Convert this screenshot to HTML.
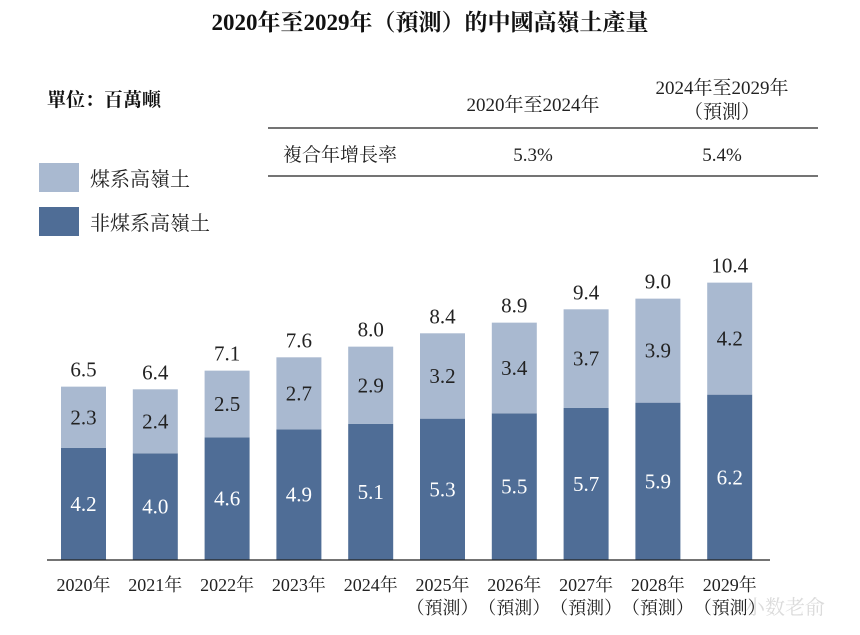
<!DOCTYPE html>
<html><head><meta charset="utf-8"><style>
body{margin:0;background:#fff;}
svg text{font-family:"Liberation Serif","Noto Serif CJK SC",serif;}
</style></head><body>
<svg id="chart" width="860" height="630" xmlns="http://www.w3.org/2000/svg">
<text x="430" y="30" text-anchor="middle" font-size="23" font-weight="bold" fill="#111">2020年至2029年（預測）的中國高嶺土產量</text>
<text x="47" y="106" font-size="19" font-weight="bold" fill="#111" font-family="'Liberation Sans','Noto Sans CJK SC',sans-serif">單位：百萬噸</text>
<g font-size="19" fill="#222">
<text x="533" y="111" text-anchor="middle">2020年至2024年</text>
<text x="722" y="94" text-anchor="middle">2024年至2029年</text>
<text x="722" y="118" text-anchor="middle">（預測）</text>
<line x1="268" y1="128" x2="818" y2="128" stroke="#222" stroke-width="1.3"/>
<text x="283" y="161">複合年增長率</text>
<text x="533" y="161" text-anchor="middle">5.3%</text>
<text x="722" y="161" text-anchor="middle">5.4%</text>
<line x1="268" y1="176" x2="818" y2="176" stroke="#222" stroke-width="1.3"/>
</g>
<g>
<rect x="39" y="163" width="40" height="29" fill="#a9b9d0"/>
<text x="90" y="186" font-size="20" fill="#222">煤系高嶺土</text>
<rect x="39" y="207" width="40" height="29" fill="#4f6d96"/>
<text x="90" y="230" font-size="20" fill="#222">非煤系高嶺土</text>
</g>
<g id="bars"></g>
<line x1="47" y1="560" x2="770" y2="560" stroke="#222" stroke-width="1.3"/>
<text x="745" y="614" font-size="20" fill="#ccc" opacity="0.7" font-family="'Liberation Sans','Noto Sans CJK SC',sans-serif">小数老俞</text>
</svg>
<script>
const years=["2020年","2021年","2022年","2023年","2024年","2025年","2026年","2027年","2028年","2029年"];
const forecast=[false,false,false,false,false,true,true,true,true,true];
const nonCoal=[4.2,4.0,4.6,4.9,5.1,5.3,5.5,5.7,5.9,6.2];
const coal=[2.3,2.4,2.5,2.7,2.9,3.2,3.4,3.7,3.9,4.2];
const totalLabels=["6.5","6.4","7.1","7.6","8.0","8.4","8.9","9.4","9.0","10.4"];
const NS="http://www.w3.org/2000/svg";
const base=560, pxPer=26.67, x0=83.5, step=71.8, bw=45;
const y=v=>base-v*pxPer;
const xc=i=>x0+i*step;
const g=document.getElementById('bars');
function mk(tag,attrs,txt){const e=document.createElementNS(NS,tag);for(const k in attrs)e.setAttribute(k,attrs[k]);if(txt!==undefined)e.textContent=txt;g.appendChild(e);return e;}
years.forEach((yr,i)=>{
  const c=xc(i), n=nonCoal[i], co=coal[i];
  const r1=mk('rect',{x:c-bw/2,y:y(n),width:bw,height:n*pxPer,fill:'#4f6d96'});
  
  
  const r2=mk('rect',{x:c-bw/2,y:y(n+co),width:bw,height:co*pxPer,fill:'#a9b9d0'});
  
  
  const t1=mk('text',{x:c,y:(y(n)+base)/2+7,'text-anchor':'middle','font-size':21,fill:'#fff'},n.toFixed(1));
  
  
  const t2=mk('text',{x:c,y:(y(n)+y(n+co))/2+7,'text-anchor':'middle','font-size':21,fill:'#222'},co.toFixed(1));
  
  
  const t3=mk('text',{x:c,y:y(n+co)-10,'text-anchor':'middle','font-size':21,fill:'#222'},totalLabels[i]);
  
  
  const t4=mk('text',{x:c,y:591,'text-anchor':'middle','font-size':18,fill:'#222'},yr);
  
  
  if(forecast[i]){
    const t5=mk('text',{x:c,y:614,'text-anchor':'middle','font-size':18,fill:'#222'},'（預測）');
    
    
  }
});
</script>
</body></html>
